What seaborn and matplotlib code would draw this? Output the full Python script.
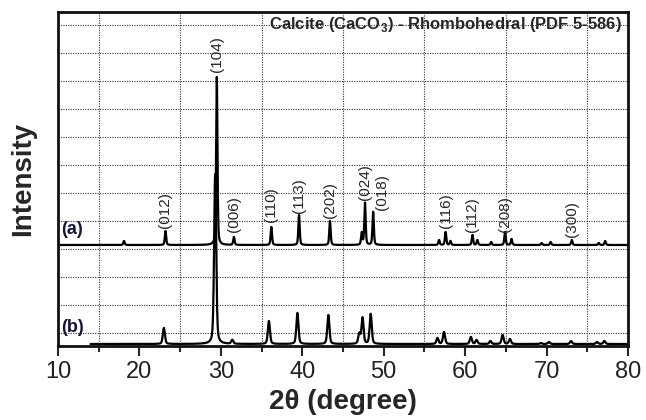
import numpy as np
import pandas as pd
import matplotlib
matplotlib.use("Agg")
import matplotlib.pyplot as plt
import seaborn as sns

# ---- data (intensity in arbitrary units) ----
a_pos = [18.1, 23.2, 29.5, 31.6, 36.2, 39.6, 43.4, 47.3, 47.7, 48.7, 56.8, 57.6, 58.2,
         60.9, 61.5, 63.2, 64.9, 65.7, 69.4, 70.5, 73.1, 76.4, 77.2]
a_height = [4, 14, 168, 8, 18, 30, 24, 12, 42, 33, 5, 13, 4,
            10, 5, 3, 13, 6, 2, 3, 5, 2, 4]
b_pos = [23.0, 29.3, 31.4, 35.9, 39.4, 43.2, 47.0, 47.4, 48.4, 56.6, 57.4,
         60.7, 61.4, 63.1, 64.6, 65.5, 69.3, 70.3, 73.0, 76.2, 77.1]
b_height = [16, 170, 4, 23, 31, 29, 10, 26, 30, 6, 12,
            7, 4, 3, 9, 5, 1, 2, 3, 2, 3]
a_offset = 101
b_offset = 2
a_range = (10, 80)
b_range = (14, 80)
a_fwhm = 0.2
b_fwhm = 0.3

hkl_labels = ["(012)", "(104)", "(006)", "(110)", "(113)", "(202)", "(024)", "(018)",
              "(116)", "(112)", "(208)", "(300)"]
hkl_x = [23.2, 29.5, 31.6, 36.2, 39.6, 43.4, 47.7, 49.8, 57.6, 60.9, 64.9, 73.1]
hkl_y = [118, 274, 114, 124, 133, 128, 146, 136, 118, 114, 114, 109]

x_ticks = [10, 20, 30, 40, 50, 60, 70, 80]
x_minor = [15, 25, 35, 45, 55, 65, 75]
y_grid = [13 + 28 * k for k in range(12)]


def pattern(lo, hi, pos, hgt, fwhm, offset):
    x = np.arange(lo, hi + 1e-9, 0.02)
    y = np.zeros_like(x)
    s = fwhm / 2.3548
    g = fwhm / 2
    for p, h in zip(pos, hgt):
        gauss = np.exp(-0.5 * ((x - p) / s) ** 2)
        lor = 1 / (1 + ((x - p) / g) ** 2)
        y += h * (0.6 * gauss + 0.4 * lor)
    return x, y + offset


xa, ya = pattern(*a_range, a_pos, a_height, a_fwhm, a_offset)
xb, yb = pattern(*b_range, b_pos, b_height, b_fwhm, b_offset)
df = pd.concat([
    pd.DataFrame({"2theta": xa, "I": ya, "sample": "a"}),
    pd.DataFrame({"2theta": xb, "I": yb, "sample": "b"}),
])

sns.set_style("ticks")
plt.rcParams["font.family"] = ["Liberation Sans", "DejaVu Sans"]

fig = plt.figure(figsize=(6.46, 4.20), dpi=100)
ax = fig.add_axes([58 / 646, 1 - 346 / 420, 570 / 646, 334 / 420])

sns.lineplot(data=df, x="2theta", y="I", units="sample", estimator=None,
             color="black", lw=1.6, ax=ax, sort=False)

ax.set_xlim(10, 80)
ax.set_ylim(0, 334)
ax.set_xticks(x_ticks)
ax.set_xticks(x_minor, minor=True)
ax.set_yticks(y_grid)
ax.tick_params(axis="y", length=0, labelleft=False)
ax.tick_params(axis="x", which="major", length=7, width=1.5, labelsize=17,
               labelcolor="#222222", direction="out", pad=4)
ax.tick_params(axis="x", which="minor", length=4, width=1.5, direction="out")
ax.grid(False)
for xv in x_minor:
    ax.axvline(xv, color="#333333", lw=0.8, ls=(0, (1, 1.2)), zorder=0)
for yv in y_grid:
    ax.axhline(yv, color="#333333", lw=0.8, ls=(0, (1, 1.2)), zorder=0)
for sp in ax.spines.values():
    sp.set_visible(True)
    sp.set_linewidth(2)
    sp.set_color("#111111")

ax.set_xlabel("2θ (degree)", fontsize=20, fontweight="bold", labelpad=4)
ax.set_ylabel("Intensity", fontsize=20, fontweight="bold", labelpad=16)

for lab, xx, yy in zip(hkl_labels, hkl_x, hkl_y):
    ax.text(xx, yy, lab, rotation=90, ha="center", va="bottom", fontsize=11)

ax.text(10.4, 116, "(a)", fontsize=13, fontweight="bold", color="#15153a", va="center")
ax.text(10.4, 18, "(b)", fontsize=13, fontweight="bold", color="#15153a", va="center")
ax.text(79.3, 322, "Calcite (CaCO$_\\mathregular{3}$) - Rhombohedral (PDF 5-586)",
        ha="right", va="center", fontsize=12, fontweight="bold")

fig.savefig("out.png", dpi=100)
